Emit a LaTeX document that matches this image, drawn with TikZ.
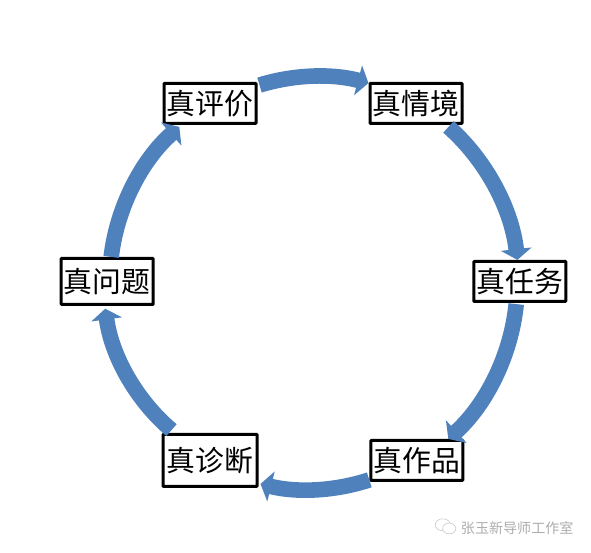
\documentclass[tikz,border=0pt]{standalone}
\usepackage{fontspec}
\usepackage{tikz}
\usetikzlibrary{
  arrows.meta,
  positioning,
  shapes.geometric
}
\newfontfamily\cjk{Noto Sans CJK SC}
\definecolor{ArcBlue}{HTML}{4F81BD}
\definecolor{MarkGray}{HTML}{ADADAD}
\tikzset{
  % Text box on the ring
  zhen/.style={
    rectangle, draw=black, fill=white, line width=0.075cm,
    rounded corners=0.5pt, inner sep=0pt,
    minimum width=2.3cm, minimum height=#1,
    align=center, font=\cjk\fontsize{20.5}{24}\selectfont
  },
  zhen/.default=1cm,
  % Thick ring arrow
  arr/.style={
    -{Triangle[length=0.27cm,width=0.76cm]},
    line width=0.39cm, color=ArcBlue, looseness=0.87
  },
  % Footer mark
  mark text/.style={font=\cjk\fontsize{10}{12}\selectfont, color=MarkGray, inner sep=0pt},
  bubble/.style={ellipse, draw=MarkGray!70, line width=0.4pt, inner sep=0pt}
}
\begin{document}
\begin{tikzpicture}
  \useasboundingbox (0,0) rectangle (14.775,13.825);

  % Boxes, clockwise from the top left
  \node[zhen] (pingjia) at (5.25,11.24) {真评价};
  \node[zhen, right=2.775cm of pingjia] (qingjing) {真情境};
  \node[zhen, below right=3.375cm and 0.22cm of qingjing] (renwu) {真任务};
  \node[zhen, below left=3.4cm and 0.2cm of renwu] (zuopin) {真作品};
  \node[zhen=1.3cm, minimum width=2.35cm, left=2.77cm of zuopin] (zhenduan) {真诊断};
  \node[zhen=1.15cm, above left=3.175cm and 0.17cm of zhenduan] (wenti) {真问题};

  % Ring
  \draw[arr] ([xshift=0.05cm,yshift=-0.08cm]pingjia.north east) to[bend left=16] ([yshift=-0.03cm]qingjing.north west);
  \draw[arr] ([xshift=-0.375cm,yshift=-0.05cm]qingjing.south east) to[bend left=21] ([xshift=-0.06cm]renwu.north);
  \draw[arr] ([xshift=-0.09cm,yshift=-0.03cm]renwu.south) to[bend left=21] ([xshift=-0.4cm]zuopin.north east);
  \draw[arr] ([yshift=0.05cm]zuopin.south west) to[bend left=16] ([xshift=0.05cm,yshift=0.1cm]zhenduan.south east);
  \draw[arr] ([xshift=0.25cm,yshift=0.07cm]zhenduan.north west) to[bend left=21] ([xshift=-0.05cm,yshift=-0.07cm]wenti.south);
  \draw[arr] ([xshift=0.1cm]wenti.north) to[bend left=21] ([xshift=0.42cm,yshift=-0.05cm]pingjia.south west);

  % Footer
  \node[mark text] (mark) at (12.93,0.625) {张玉新导师工作室};
  \node[bubble, minimum width=0.38cm, minimum height=0.3cm, left=0.25cm of mark, yshift=0.08cm] (bubblea) {};
  \node[bubble, minimum width=0.33cm, minimum height=0.27cm, fill=white, below right=-0.12cm and -0.1cm of bubblea] (bubbleb) {};
\end{tikzpicture}
\end{document}
